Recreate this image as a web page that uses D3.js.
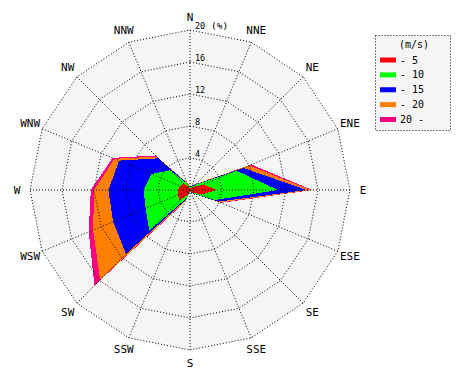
<!DOCTYPE html>
<html><head><meta charset="utf-8">
<script src="https://cdn.jsdelivr.net/npm/d3@7"></script>
<style>html,body{margin:0;padding:0;background:#fff;}svg{display:block;}</style>
</head><body>
<script>
// ---- data ----
const directions = ["N","NNE","NE","ENE","E","ESE","SE","SSE","S","SSW","SW","WSW","W","WNW","NW","NNW"];
const speedClasses = ["- 5","- 10","- 15","- 20","20 -"];
const classColors = ["#ff0000","#00ff00","#0000ff","#ff8000","#ff0080"];
const ringTicks = [4, 8, 12, 16, 20];
// cumulative frequency (%) up to each speed class
const cumTo5  = [0.2,0.3,0.5,1.8, 3.4,1.5,0.4,0.2,0.2,0.6, 1.8, 1.7, 1.5, 1.3,1.2,0.4];
const cumTo10 = [0.4,0.5,0.9,6.3,11.0,3.3,0.6,0.3,0.3,1.1, 7.2, 6.0, 5.8, 5.2,3.5,0.8];
const cumTo15 = [0.5,0.6,1.0,7.2,14.6,3.8,0.7,0.3,0.3,1.3,11.3,10.4,10.2, 9.6,5.6,0.9];
const cumTo20 = [0.5,0.6,1.1,8.0,15.1,4.1,0.7,0.3,0.3,1.5,15.9,13.1,12.0,10.2,5.9,1.0];
const cumAll  = [0.5,0.6,1.1,8.3,15.3,4.2,0.7,0.3,0.3,1.6,16.9,13.7,12.4,10.5,6.1,1.0];
const layers = [cumTo5, cumTo10, cumTo15, cumTo20, cumAll];

// ---- chart ----
const W = 470, H = 380, cx = 190, cy = 190;
const svg = d3.select("body").append("svg").attr("width", W).attr("height", H);
const r = d3.scaleLinear().domain([0, 20]).range([0, 160]);
const angle = d3.scalePoint().domain(directions).range([0, 2 * Math.PI * 15 / 16]);
const g = svg.append("g").attr("transform", `translate(${cx},${cy})`);

const radial = d3.lineRadial()
  .angle((d, i) => angle(directions[i]))
  .radius(d => r(d))
  .curve(d3.curveLinearClosed);

// background
g.append("path").attr("d", radial(directions.map(() => 20))).attr("fill", "#f5f5f5");

// filled layers, outermost first
for (let k = layers.length - 1; k >= 0; k--) {
  g.append("path").attr("d", radial(layers[k]))
    .attr("fill", classColors[k]).attr("shape-rendering", "crispEdges");
}

// grid rings
ringTicks.forEach(t => {
  g.append("path").attr("d", radial(directions.map(() => t)))
    .attr("fill", "none").attr("stroke", "#000").attr("stroke-width", 1)
    .attr("stroke-dasharray", "1,2");
});
// spokes
directions.forEach(d => {
  const a = angle(d);
  g.append("line").attr("x1", 0).attr("y1", 0)
    .attr("x2", r(20) * Math.sin(a)).attr("y2", -r(20) * Math.cos(a))
    .attr("stroke", "#000").attr("stroke-width", 1).attr("stroke-dasharray", "1,2");
});

// direction labels
directions.forEach(d => {
  const a = angle(d), rr = 173;
  g.append("text").attr("x", rr * Math.sin(a)).attr("y", -rr * Math.cos(a))
    .attr("text-anchor", "middle").attr("dominant-baseline", "central")
    .attr("font-family", "DejaVu Sans Mono").attr("font-size", 11).attr("fill", "#000")
    .text(d);
});

// ring labels
ringTicks.forEach(t => {
  g.append("text").attr("x", 5).attr("y", -r(t) - 1)
    .attr("font-family", "DejaVu Sans Mono").attr("font-size", 8.5).attr("fill", "#000")
    .text(t);
});
g.append("text").attr("x", 21).attr("y", -r(20) - 1)
  .attr("font-family", "DejaVu Sans Mono").attr("font-size", 9.5).attr("fill", "#000")
  .text("(%)");

// legend
const lg = svg.append("g");
lg.append("rect").attr("x", 375.5).attr("y", 35.5).attr("width", 75).attr("height", 95)
  .attr("fill", "#f5f5f5").attr("stroke", "#000").attr("stroke-dasharray", "1,2");
lg.append("text").attr("x", 414).attr("y", 44).attr("text-anchor", "middle")
  .attr("dominant-baseline", "central")
  .attr("font-family", "DejaVu Sans Mono").attr("font-size", 10).text("(m/s)");
const ly = d3.scalePoint().domain(speedClasses).range([60, 119.5]);
speedClasses.forEach((s, i) => {
  lg.append("rect").attr("x", 380).attr("y", ly(s) - 2.5).attr("width", 16).attr("height", 5)
    .attr("fill", classColors[i]);
  lg.append("text").attr("x", 400).attr("y", ly(s)).attr("dominant-baseline", "central")
    .attr("font-family", "DejaVu Sans Mono").attr("font-size", 10).text(s);
});
</script>
</body></html>
